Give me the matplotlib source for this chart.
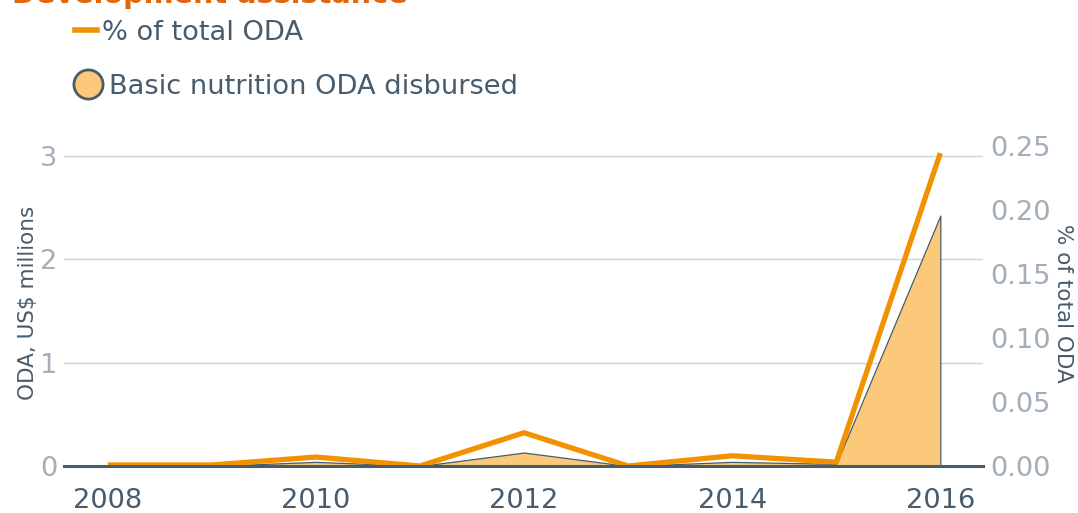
import matplotlib
matplotlib.use('Agg')
import matplotlib.pyplot as plt
from matplotlib.lines import Line2D

# Data
years = [2008, 2009, 2010, 2011, 2012, 2013, 2014, 2015, 2016]
oda_disbursed = [0.0, 0.0, 0.04, 0.0, 0.13, 0.0, 0.04, 0.02, 2.42]  # US$ millions
pct_total_oda = [0.0008, 0.0008, 0.007, 0.0, 0.026, 0.0, 0.008, 0.003, 0.2445]  # %
x_ticks = [2008, 2010, 2012, 2014, 2016]
left_ticks = [0, 1, 2, 3]
right_ticks = [0.00, 0.05, 0.10, 0.15, 0.20, 0.25]

# Colours
ORANGE = '#F39200'
FILL = '#FCC97B'
DARK = '#475C6D'
LIGHT = '#A3AEB9'
GRID = '#CDD2DA'
TITLE = '#E3650E'

FS = 19.6

plt.rcParams['font.family'] = 'DejaVu Sans'

fig = plt.figure(figsize=(10.78, 5.13), dpi=100)
ax = fig.add_axes([64 / 1078, 1 - 466 / 513, (983 - 64) / 1078, (466 - 140) / 513])
ax2 = ax.twinx()

# area for disbursed ODA
ax.fill_between(years, oda_disbursed, 0, facecolor=FILL, edgecolor=DARK, linewidth=0.9, zorder=2)

# line for share of total ODA
ax2.plot(years, pct_total_oda, color=ORANGE, linewidth=3.8, solid_capstyle='butt', zorder=3)

top_left = 3.15
ax.set_ylim(0, top_left)
ax2.set_ylim(0, top_left * 103.5 / 1280)
ax.set_xlim(2007.58, 2016.41)

ax.set_xticks(x_ticks)
ax.set_xticklabels([str(y) for y in x_ticks])
ax.set_yticks(left_ticks)
ax.set_yticklabels([str(t) for t in left_ticks])
ax2.set_yticks(right_ticks)
ax2.set_yticklabels([f'{t:.2f}' for t in right_ticks])

ax.grid(axis='y', color=GRID, linewidth=1.0, zorder=0)
ax.set_axisbelow(True)
ax.tick_params(axis='x', length=0, pad=16, labelsize=FS, labelcolor=DARK)
ax.tick_params(axis='y', length=0, pad=5, labelsize=FS, labelcolor=LIGHT)
ax2.tick_params(axis='y', length=0, pad=5, labelsize=FS, labelcolor=LIGHT)

for a in (ax, ax2):
    for side in ('top', 'left', 'right', 'bottom'):
        a.spines[side].set_visible(False)
ax2.spines['bottom'].set_visible(True)
ax2.spines['bottom'].set_color(DARK)
ax2.spines['bottom'].set_linewidth(2.2)
ax2.spines['bottom'].set_zorder(5)

ax.set_ylabel('ODA, US$ millions', fontsize=15.5, color=DARK, labelpad=1.5)
ax2.set_ylabel('% of total ODA', fontsize=15.5, color=DARK, rotation=270, labelpad=16.5)

# title, clipped at the top edge as in the reference
fig.text(12 / 1078, 1 - 3 / 513, 'Development assistance', fontsize=20.7,
         fontweight='bold', color=TITLE, va='baseline', ha='left')

# legend, one entry per block so the handles sit like the reference
line_handle = Line2D([], [], color=ORANGE, linewidth=4)
fig.legend([line_handle], ['% of total ODA'],
           loc='center left', bbox_to_anchor=(75 / 1078, 1 - 33 / 513),
           frameon=False, fontsize=FS, labelcolor=DARK,
           handlelength=0.8, handletextpad=0.2, borderpad=0, borderaxespad=0)
dot_handle = Line2D([], [], linestyle='none', marker='o', markersize=21,
                    markerfacecolor=FILL, markeredgecolor=DARK, markeredgewidth=2)
fig.legend([dot_handle], ['Basic nutrition ODA disbursed'],
           loc='center left', bbox_to_anchor=(74 / 1078, 1 - 87 / 513),
           frameon=False, fontsize=FS, labelcolor=DARK,
           handlelength=1.0, handletextpad=0.3, borderpad=0, borderaxespad=0)

fig.savefig('out.png', dpi=100)
